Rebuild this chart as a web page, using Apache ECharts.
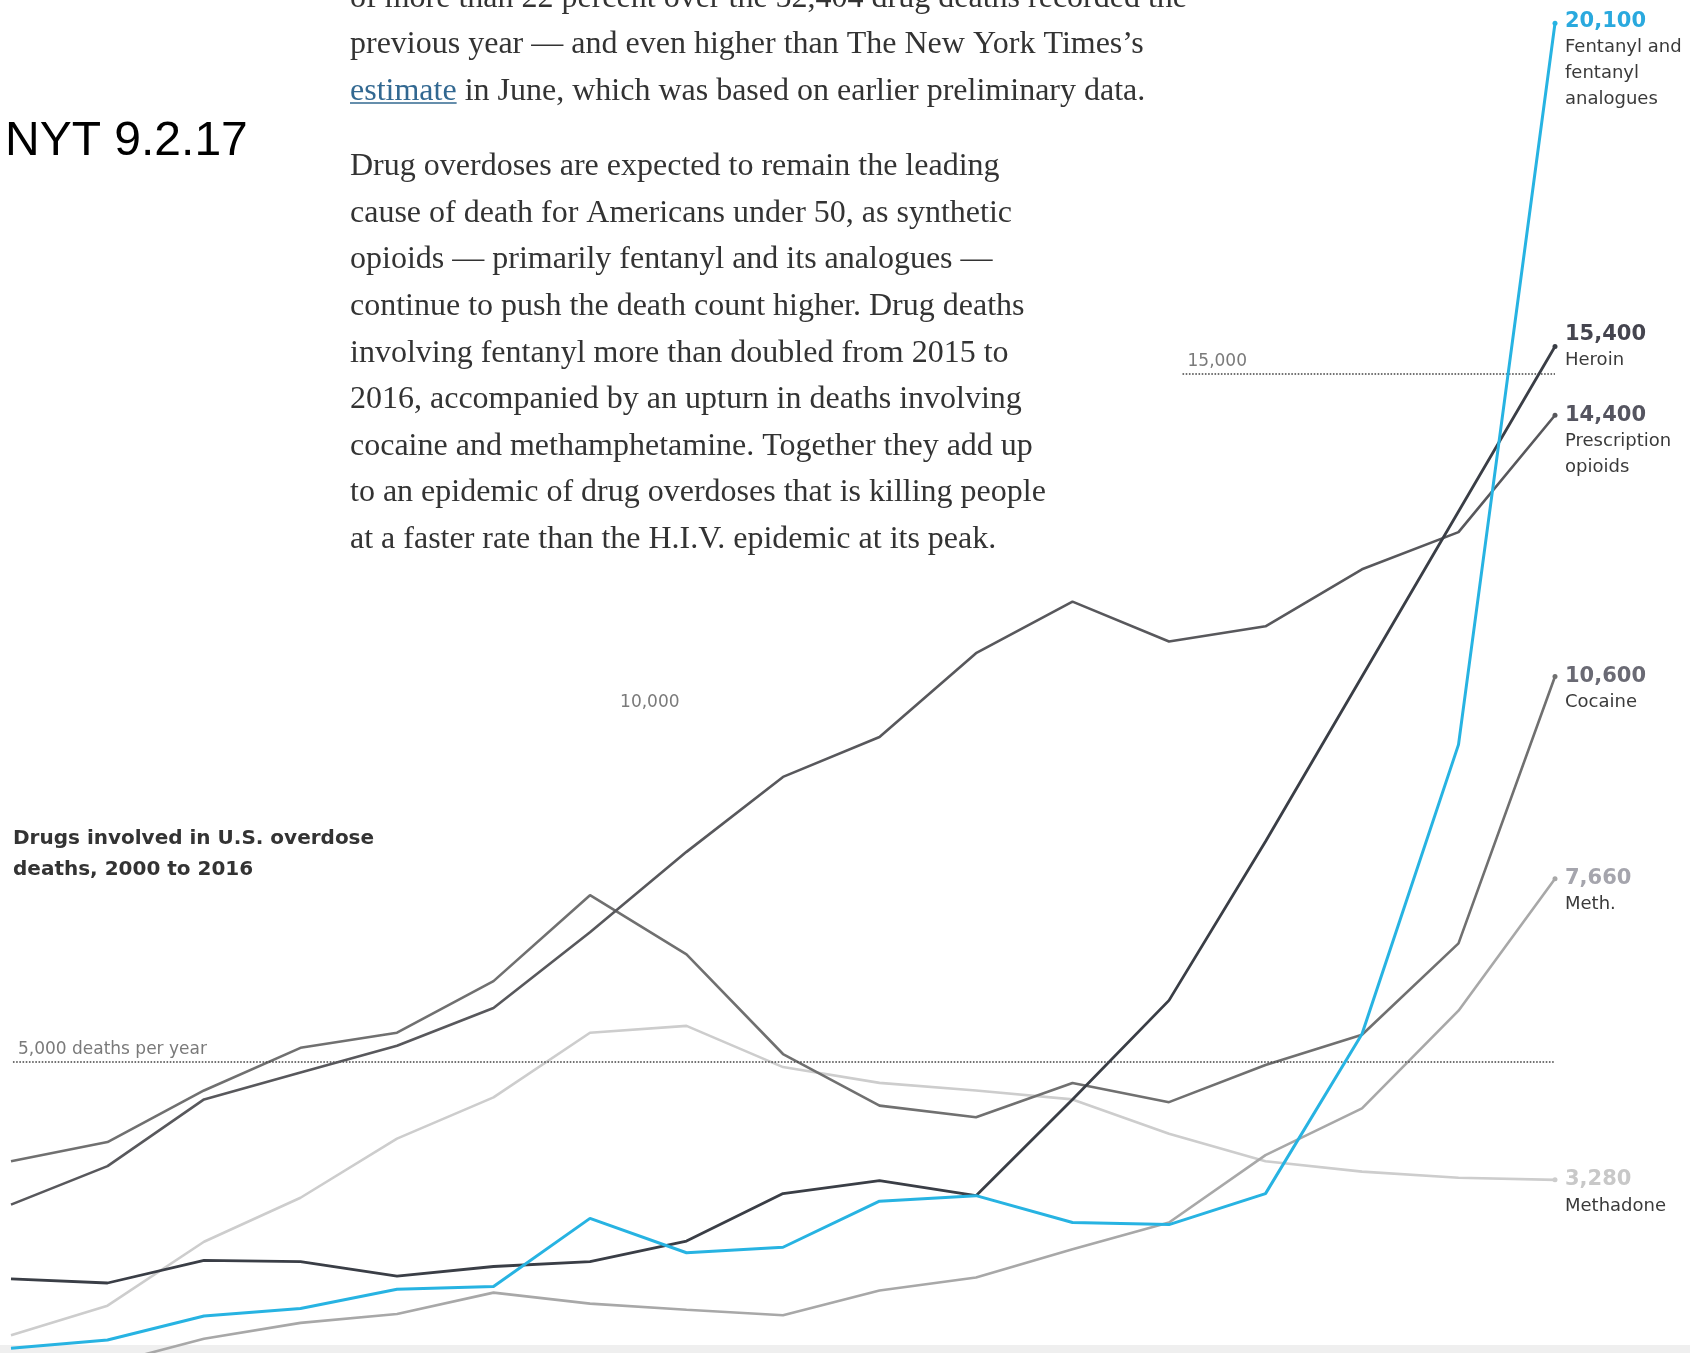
<!DOCTYPE html>
<html>
<head>
<meta charset="utf-8">
<script src="https://cdn.jsdelivr.net/npm/echarts@6/dist/echarts.min.js"></script>
<style>
html, body { margin: 0; padding: 0; background: #ffffff; }
#view { width: 1690px; height: 1353px; }
</style>
</head>
<body>
<div id="view"></div>
<script>
// overdose deaths per year
const years = [2000, 2001, 2002, 2003, 2004, 2005, 2006, 2007, 2008, 2009, 2010, 2011, 2012, 2013, 2014, 2015, 2016];
const fentanyl = [830, 950, 1300, 1410, 1690, 1730, 2720, 2220, 2300, 2970, 3050, 2660, 2630, 3080, 5400, 9610, 20100];
const heroin = [1840, 1780, 2110, 2090, 1880, 2020, 2090, 2390, 3080, 3270, 3050, 4450, 5890, 8200, 10600, 13000, 15400];
const prescription = [2920, 3480, 4450, 4840, 5230, 5780, 6880, 8050, 9140, 9720, 10940, 11690, 11110, 11330, 12160, 12700, 14400];
const cocaine = [3550, 3830, 4580, 5200, 5420, 6170, 7420, 6560, 5110, 4360, 4190, 4690, 4410, 4950, 5390, 6720, 10600];
const meth = [500, 600, 970, 1200, 1330, 1640, 1480, 1390, 1310, 1670, 1860, 2270, 2660, 3640, 4320, 5740, 7660];
const methadone = [1020, 1450, 2380, 3020, 3880, 4480, 5420, 5520, 4920, 4690, 4580, 4450, 3950, 3550, 3400, 3310, 3280];

const endValues = ["20,100", "15,400", "14,400", "10,600", "7,660", "3,280"];
const endNames = ["Fentanyl and\nfentanyl\nanalogues", "Heroin", "Prescription\nopioids", "Cocaine", "Meth.", "Methadone"];
const refLevels = [5000, 10000, 15000];
const refLabels = ["5,000 deaths per year", "10,000", "15,000"];

const paragraph1 = [
  "of more than 22 percent over the 52,404 drug deaths recorded the",
  "previous year \u2014 and even higher than The New York Times\u2019s",
  "in June, which was based on earlier preliminary data."
];
const paragraph2 = [
  "Drug overdoses are expected to remain the leading",
  "cause of death for Americans under 50, as synthetic",
  "opioids \u2014 primarily fentanyl and its analogues \u2014",
  "continue to push the death count higher. Drug deaths",
  "involving fentanyl more than doubled from 2015 to",
  "2016, accompanied by an upturn in deaths involving",
  "cocaine and methamphetamine. Together they add up",
  "to an epidemic of drug overdoses that is killing people",
  "at a faster rate than the H.I.V. epidemic at its peak."
];

const serif = '"Liberation Serif", serif';
const sans = '"DejaVu Sans", sans-serif';

function pairs(values) {
  return years.map((y, i) => [y, values[i]]);
}

function endPoint(values, color, idx, valueColor, dy) {
  return {
    coord: [years[years.length - 1], values[values.length - 1]],
    symbol: "circle",
    symbolSize: 5,
    itemStyle: { color: color },
    label: {
      show: true,
      position: [12.5, -10.5 + dy],
      align: "left",
      verticalAlign: "top",
      formatter: "{v|" + endValues[idx] + "}\n{n|" + endNames[idx].split("\n").join("}\n{n|") + "}",
      rich: {
        v: { fontFamily: sans, fontWeight: "bold", fontSize: 21, lineHeight: 26, color: valueColor },
        n: { fontFamily: sans, fontSize: 18, lineHeight: 26, color: "#3a3a3a" }
      }
    }
  };
}

function makeSeries(name, values, color, width, z, points, extra) {
  let ser = {
    name: name,
    type: "line",
    data: pairs(values),
    showSymbol: false,
    clip: false,
    z: z,
    animation: false,
    lineStyle: { color: color, width: width },
    itemStyle: { color: color },
    markPoint: { animation: false, silent: true, data: points }
  };
  return Object.assign(ser, extra || {});
}

const refLineStyle = { type: "dotted", color: "#444", width: 1.6 };
const refLabelStyle = { color: "#7a7a7a", fontFamily: sans, fontSize: 17 };

const seriesList = [
  makeSeries("Methadone", methadone, "#cdcdcd", 2.6, 2,
    [
      endPoint(methadone, "#cdcdcd", 5, "#c8c8c8", 0),
      {
        coord: [2006.62, refLevels[1]],
        symbol: "circle",
        symbolSize: 1,
        itemStyle: { color: "rgba(0,0,0,0)" },
        label: Object.assign({ show: true, position: "top", distance: 6, formatter: refLabels[1] }, refLabelStyle)
      }
    ],
    {
      markLine: {
        silent: true,
        animation: false,
        symbol: ["none", "none"],
        lineStyle: refLineStyle,
        label: Object.assign({ show: true, position: "insideStartTop", distance: [5, 4] }, refLabelStyle),
        data: [
          [{ coord: [2000.02, refLevels[0]], label: { formatter: refLabels[0] } }, { coord: [2016, refLevels[0]] }],
          [{ coord: [2012.14, refLevels[2]], label: { formatter: refLabels[2] } }, { coord: [2016, refLevels[2]] }]
        ]
      }
    }),
  makeSeries("Meth.", meth, "#a8a8a8", 2.6, 3, [endPoint(meth, "#a8a8a8", 4, "#a5a5ad", 0)]),
  makeSeries("Cocaine", cocaine, "#707070", 2.6, 4, [endPoint(cocaine, "#707070", 3, "#6a6a74", 0)]),
  makeSeries("Prescription opioids", prescription, "#58585c", 2.6, 5, [endPoint(prescription, "#58585c", 2, "#555560", 0)]),
  makeSeries("Heroin", heroin, "#3a3e46", 2.8, 6, [endPoint(heroin, "#3a3e46", 1, "#45454f", -12)]),
  makeSeries("Fentanyl", fentanyl, "#27b3e2", 3, 7, [endPoint(fentanyl, "#27b3e2", 0, "#2aa9de", -2)])
];

// text widths for the link underline
const measureCtx = document.createElement("canvas").getContext("2d");
measureCtx.font = "32px " + serif;
const linkWord = "estimate";
const linkWidth = measureCtx.measureText(linkWord).width;
const spaceWidth = measureCtx.measureText(" ").width;

const graphics = [];
const p1y = [-1.5, 45, 91.4];
paragraph1.forEach((t, i) => {
  let x = 350;
  if (i == 2) {
    graphics.push({
      type: "text", x: 350, y: p1y[i], z: 10,
      style: { text: linkWord, font: "32px " + serif, fill: "#326891", textVerticalAlign: "middle" }
    });
    graphics.push({
      type: "line", z: 10,
      shape: { x1: 350, y1: 103, x2: 350 + linkWidth, y2: 103 },
      style: { stroke: "#326891", lineWidth: 1.5 }
    });
    x = 350 + linkWidth + spaceWidth;
  }
  graphics.push({
    type: "text", x: x, y: p1y[i], z: 10,
    style: { text: t, font: "32px " + serif, fill: "#333", textVerticalAlign: "middle" }
  });
});
paragraph2.forEach((t, i) => {
  graphics.push({
    type: "text", x: 350, y: 166.8 + i * 46.6, z: 10,
    style: { text: t, font: "32px " + serif, fill: "#333", textVerticalAlign: "middle" }
  });
});
graphics.push({
  type: "text", x: 5, y: 142, z: 10,
  style: { text: "NYT 9.2.17", font: '48px "Liberation Sans", sans-serif', fill: "#000", textVerticalAlign: "middle" }
});
graphics.push({
  type: "text", x: 13, y: 838.5, z: 10,
  style: { text: "Drugs involved in U.S. overdose", font: "bold 20px " + sans, fill: "#333", textVerticalAlign: "middle" }
});
graphics.push({
  type: "text", x: 13, y: 869.7, z: 10,
  style: { text: "deaths, 2000 to 2016", font: "bold 20px " + sans, fill: "#333", textVerticalAlign: "middle" }
});
graphics.push({
  type: "rect", z: -1,
  shape: { x: 0, y: 1345, width: 1690, height: 8 },
  style: { fill: "#efefef" }
});

const myChart = echarts.init(document.getElementById("view"));
const option = {
  backgroundColor: "#ffffff",
  animation: false,
  // zero sits below the picture, so the axis starts where the bottom edge cuts it
  grid: { left: 11, right: 135, top: 23.3, bottom: 0 },
  xAxis: { type: "value", min: 2000, max: 2016, show: false },
  yAxis: { type: "value", min: 762, max: 20100, show: false },
  graphic: { elements: graphics },
  series: seriesList
};
myChart.setOption(option);
</script>
</body>
</html>
